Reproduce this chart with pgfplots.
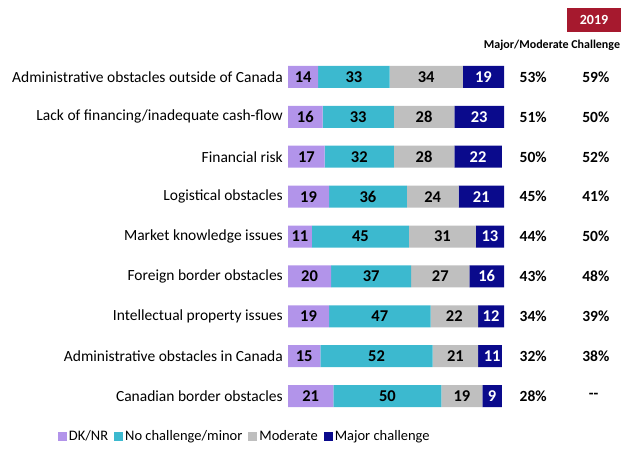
\documentclass[border=0pt]{standalone}
\usepackage{pgfplots}
\pgfplotsset{compat=1.18}
\usepackage{pgfplotstable}
\usepackage{fontspec}
\setmainfont{Carlito}
\definecolor{cdk}{HTML}{B294EA}
\definecolor{cno}{HTML}{3CB9CF}
\definecolor{cmod}{HTML}{BFBFBF}
\definecolor{cmaj}{HTML}{0A0A8C}
\definecolor{cyr}{HTML}{A6192E}
\pgfplotstableread{
y dk no mod maj
1 14 33 34 19
2 16 33 28 23
3 17 32 28 22
4 19 36 24 21
5 11 45 31 13
6 20 37 27 16
7 19 47 22 12
8 15 52 21 11
9 21 50 19 9
}\bars
\pgfplotstableread{
x y lab
7 1 14
30.5 1 33
64 1 34
8 2 16
32.5 2 33
63 2 28
8.5 3 17
33 3 32
63 3 28
9.5 4 19
37 4 36
67 4 24
5.5 5 11
33.5 5 45
71.5 5 31
10 6 20
38.5 6 37
70.5 6 27
9.5 7 19
42.5 7 47
77 7 22
7.5 8 15
41 8 52
77.5 8 21
10.5 9 21
46 9 50
80.5 9 19
}\blacklabs
\pgfplotstableread{
x y lab
90.5 1 19
88.5 2 23
88 3 22
89.5 4 21
93.5 5 13
92 6 16
94 7 12
94.5 8 11
94.5 9 9
}\whitelabs
\pgfplotstableread{
x y lab
113.5 1 53\%
113.5 2 51\%
113.5 3 50\%
113.5 4 45\%
113.5 5 44\%
113.5 6 43\%
113.5 7 34\%
113.5 8 32\%
113.5 9 28\%
}\cur
\pgfplotstableread{
x y lab
142.5 1 59\%
142.5 2 50\%
142.5 3 52\%
142.5 4 41\%
142.5 5 50\%
142.5 6 48\%
142.5 7 39\%
142.5 8 38\%
141.5 9 -{}-
}\prev
\begin{document}
\begin{tikzpicture}
\path[use as bounding box] (0pt,0pt) rectangle (624pt,-468pt);
\begin{axis}[
  at={(288pt,-57pt)}, anchor=north west,
  scale only axis, width=216pt, height=359pt,
  xbar stacked, bar width=22pt,
  xmin=0, xmax=100, ymin=0.5, ymax=9.5, y dir=reverse,
  axis line style={draw=none}, major tick length=0pt,
  xtick=\empty, ytick={1,...,9},
  yticklabels={Administrative obstacles outside of Canada,Lack of financing/inadequate cash-flow,Financial risk,Logistical obstacles,Market knowledge issues,Foreign border obstacles,Intellectual property issues,Administrative obstacles in Canada,Canadian border obstacles},
  yticklabel style={font=\fontsize{15.5}{17}\selectfont, inner sep=0pt, xshift=-5pt},
  legend columns=4,
  legend style={at={(-0.2,-0.056)}, anchor=center, draw=none, font=\fontsize{14.5}{16}\selectfont,
    /tikz/every even column/.append style={column sep=4pt}},
  legend image code/.code={\fill[#1] (0pt,-4.5pt) rectangle (9pt,4.5pt);},
  clip=false,
]
\addplot[fill=cdk, draw=none] table[x=dk, y=y] {\bars};
\addlegendentry{DK/NR}
\addplot[fill=cno, draw=none] table[x=no, y=y] {\bars};
\addlegendentry{No challenge/minor}
\addplot[fill=cmod, draw=none] table[x=mod, y=y] {\bars};
\addlegendentry{Moderate}
\addplot[fill=cmaj, draw=none] table[x=maj, y=y] {\bars};
\addlegendentry{Major challenge}
\end{axis}
\begin{axis}[
  at={(288pt,-57pt)}, anchor=north west,
  scale only axis, width=216pt, height=359pt,
  xmin=0, xmax=100, ymin=0.5, ymax=9.5, y dir=reverse,
  hide axis, clip=false,
  nodes near coords, point meta=explicit symbolic,
  every node near coord/.append style={anchor=center, font=\fontsize{16.5}{18}\selectfont\bfseries},
]
\addplot[draw=none, mark=none, nodes near coords style={text=black}] table[x=x, y=y, meta=lab] {\blacklabs};
\addplot[draw=none, mark=none, nodes near coords style={text=white}] table[x=x, y=y, meta=lab] {\whitelabs};
\addplot[draw=none, mark=none, nodes near coords style={text=black, font=\fontsize{15.5}{17}\selectfont\bfseries}] table[x=x, y=y, meta=lab] {\cur};
\addplot[draw=none, mark=none, nodes near coords style={text=black, font=\fontsize{15.5}{17}\selectfont\bfseries}] table[x=x, y=y, meta=lab] {\prev};
\end{axis}
\node[fill=cyr, text=white, font=\fontsize{14}{16}\selectfont\bfseries, minimum width=54pt, minimum height=24pt, inner sep=0pt] at (594pt,-20pt) {2019};
\node[font=\fontsize{12}{14}\selectfont\bfseries] at (552pt,-45pt) {Major/Moderate Challenge};
\end{tikzpicture}
\end{document}
